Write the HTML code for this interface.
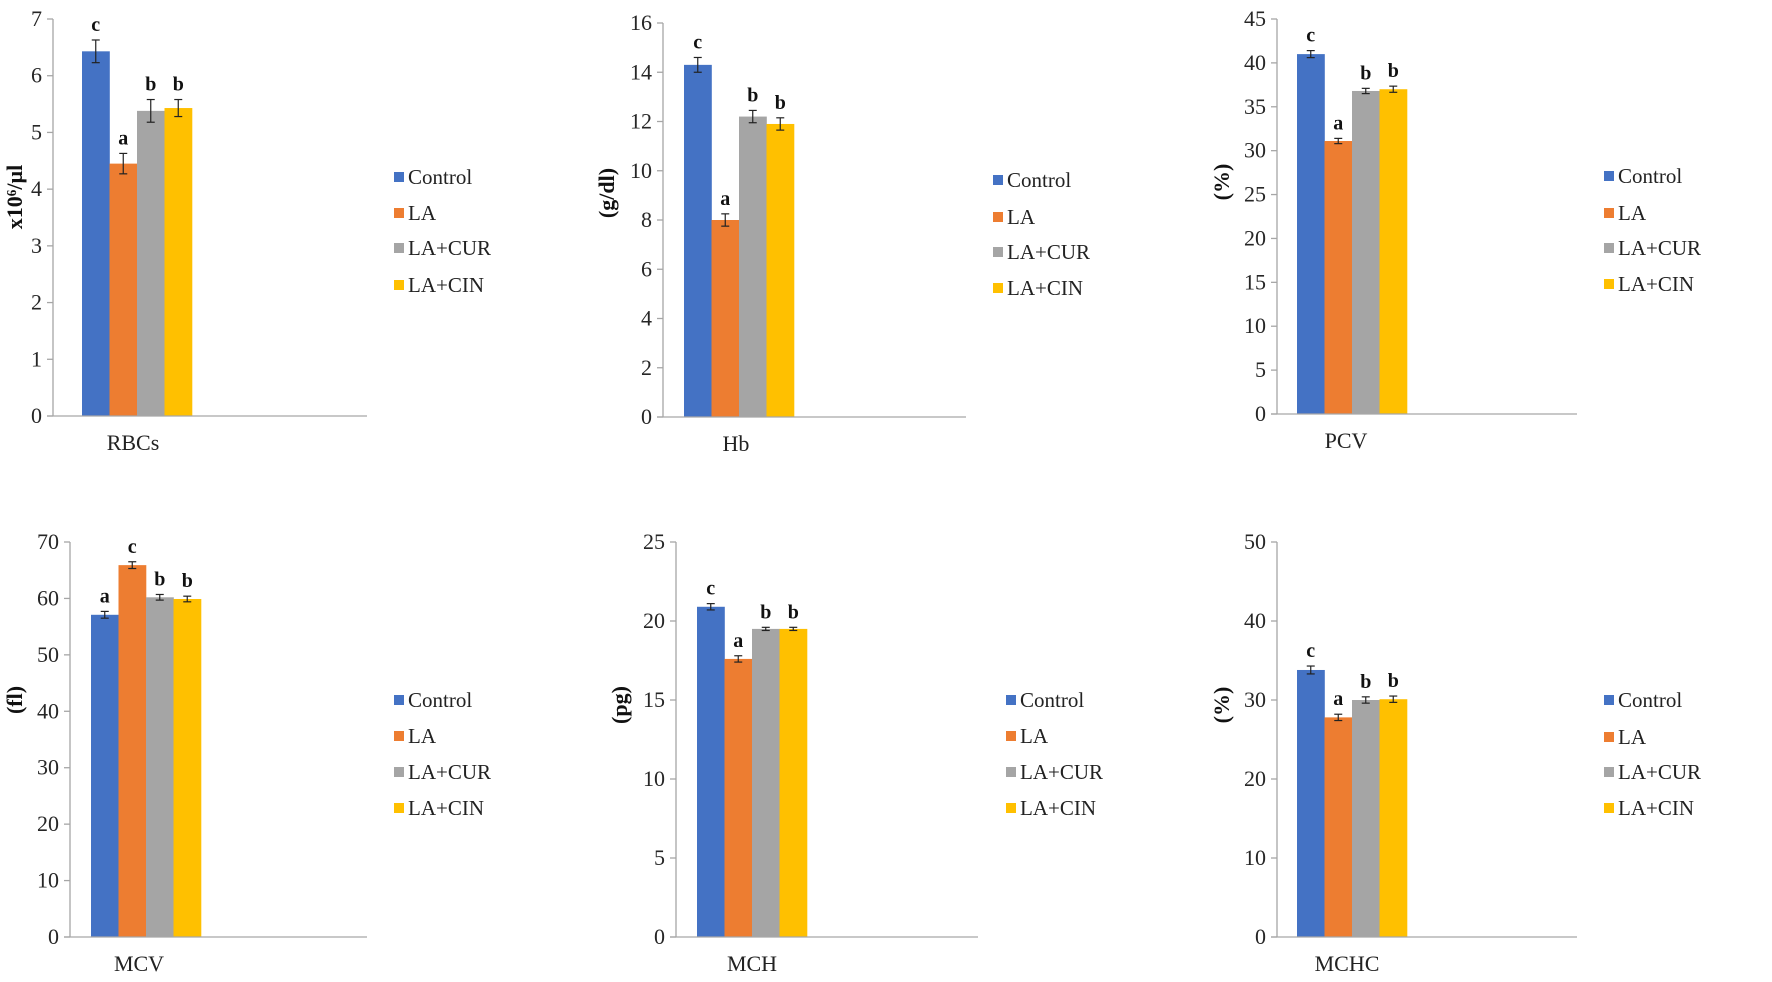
<!DOCTYPE html>
<html><head><meta charset="utf-8"><style>
html,body{margin:0;padding:0;background:#fff;}
svg{display:block;font-family:"Liberation Serif",serif;}
</style></head><body>
<svg id="chart" width="1772" height="982" viewBox="0 0 1772 982" xmlns="http://www.w3.org/2000/svg"></svg>
<script>
const groups = ["Control","LA","LA+CUR","LA+CIN"];
const colors = ["#4472C4","#ED7D31","#A5A5A5","#FFC000"];
const rbcVals = [6.43,4.45,5.38,5.43];
const rbcErr = [0.2,0.18,0.2,0.15];
const rbcLetters = ["c","a","b","b"];
const hbVals = [14.3,8.0,12.2,11.9];
const hbErr = [0.3,0.25,0.25,0.25];
const hbLetters = ["c","a","b","b"];
const pcvVals = [41.0,31.1,36.8,37.0];
const pcvErr = [0.4,0.3,0.3,0.35];
const pcvLetters = ["c","a","b","b"];
const mcvVals = [57.1,65.9,60.2,59.9];
const mcvErr = [0.6,0.6,0.5,0.5];
const mcvLetters = ["a","c","b","b"];
const mchVals = [20.9,17.6,19.5,19.5];
const mchErr = [0.2,0.2,0.1,0.1];
const mchLetters = ["c","a","b","b"];
const mchcVals = [33.8,27.8,30.0,30.1];
const mchcErr = [0.5,0.4,0.4,0.4];
const mchcLetters = ["c","a","b","b"];
const rbcTicks = [0,1,2,3,4,5,6,7];
const hbTicks = [0,2,4,6,8,10,12,14,16];
const pcvTicks = [0,5,10,15,20,25,30,35,40,45];
const mcvTicks = [0,10,20,30,40,50,60,70];
const mchTicks = [0,5,10,15,20,25];
const mchcTicks = [0,10,20,30,40,50];

const panels = [
 {id:"rbcs",cat:"RBCs",title:"x10\u2076/\u00b5l",vals:rbcVals,err:rbcErr,letters:rbcLetters,ticks:rbcTicks,ax:53,y0:416,yTop:19,xEnd:367,barX:82,titleX:22,titleY:197,catX:133,catY:450,legX:394,legY:[177,213,248,285]},
 {id:"hb",cat:"Hb",title:"(g/dl)",vals:hbVals,err:hbErr,letters:hbLetters,ticks:hbTicks,ax:663,y0:417,yTop:23,xEnd:966,barX:684,titleX:614,titleY:193,catX:736,catY:451,legX:993,legY:[180,217,252,288]},
 {id:"pcv",cat:"PCV",title:"(%)",vals:pcvVals,err:pcvErr,letters:pcvLetters,ticks:pcvTicks,ax:1277,y0:414,yTop:19,xEnd:1577,barX:1297,titleX:1229,titleY:182,catX:1346,catY:448,legX:1604,legY:[176,213,248,284]},
 {id:"mcv",cat:"MCV",title:"(fl)",vals:mcvVals,err:mcvErr,letters:mcvLetters,ticks:mcvTicks,ax:70,y0:937,yTop:542,xEnd:367,barX:91,titleX:22,titleY:700,catX:139,catY:971,legX:394,legY:[700,736,772,808]},
 {id:"mch",cat:"MCH",title:"(pg)",vals:mchVals,err:mchErr,letters:mchLetters,ticks:mchTicks,ax:676,y0:937,yTop:542,xEnd:978,barX:697,titleX:627,titleY:705,catX:752,catY:971,legX:1006,legY:[700,736,772,808]},
 {id:"mchc",cat:"MCHC",title:"(%)",vals:mchcVals,err:mchcErr,letters:mchcLetters,ticks:mchcTicks,ax:1277,y0:937,yTop:542,xEnd:1577,barX:1297,titleX:1229,titleY:705,catX:1347,catY:971,legX:1604,legY:[700,737,772,808]}
];
const NS="http://www.w3.org/2000/svg";
const svg=document.getElementById("chart");
function mk(tag,attrs,parent,text){const e=document.createElementNS(NS,tag);for(const k in attrs)e.setAttribute(k,attrs[k]);if(text!==undefined)e.textContent=text;parent.appendChild(e);return e;}
const BW=27.5;
panels.forEach(p=>{
  const g=mk("g",{},svg);
  
  
  const max=p.ticks[p.ticks.length-1];
  const y=v=>p.y0-(v/max)*(p.y0-p.yTop);
  const ya=mk("line",{x1:p.ax,y1:p.yTop,x2:p.ax,y2:p.y0,stroke:"#a6a6a6","stroke-width":1.3},g);
  
  
  p.ticks.forEach(t=>{
    mk("line",{x1:p.ax-6,y1:y(t),x2:p.ax,y2:y(t),stroke:"#a6a6a6","stroke-width":1.3},g);
    const tl=mk("text",{x:p.ax-11,y:y(t)+7,"text-anchor":"end","font-size":22,fill:"#262626"},g,String(t));
    
    
  });
  p.vals.forEach((v,i)=>{
    const x=p.barX+i*BW;
    const b=mk("rect",{x:x,y:y(v),width:BW+0.3,height:p.y0-y(v),fill:colors[i]},g);
    
    
    const cx=x+BW/2, e=p.err[i];
    const hi=y(v+e), lo=y(v-e);
    mk("line",{x1:cx,y1:hi,x2:cx,y2:lo,stroke:"#222","stroke-width":1.2},g);
    mk("line",{x1:cx-4,y1:hi,x2:cx+4,y2:hi,stroke:"#222","stroke-width":1.2},g);
    mk("line",{x1:cx-4,y1:lo,x2:cx+4,y2:lo,stroke:"#222","stroke-width":1.2},g);
    const lt=mk("text",{x:cx,y:hi-9,"text-anchor":"middle","font-size":20,"font-weight":"bold",fill:"#111"},g,p.letters[i]);
    
    
  });
  const xa=mk("line",{x1:p.ax-6,y1:p.y0,x2:p.xEnd,y2:p.y0,stroke:"#a6a6a6","stroke-width":1.3},g);
  
  
  const cl=mk("text",{x:p.catX,y:p.catY,"text-anchor":"middle","font-size":22,fill:"#222"},g,p.cat);
  
  
  const yt=mk("text",{x:p.titleX,y:p.titleY,"text-anchor":"middle","font-size":22,"font-weight":"bold",fill:"#111",transform:"rotate(-90 "+p.titleX+" "+p.titleY+")"},g,p.title);
  
  
  groups.forEach((gn,i)=>{
    const lg=mk("g",{},g);
    
    
    mk("rect",{x:p.legX,y:p.legY[i]-5,width:10,height:10,fill:colors[i]},lg);
    mk("text",{x:p.legX+14,y:p.legY[i]+7,"font-size":21,fill:"#222"},lg,gn);
  });
});
</script>
</body></html>
